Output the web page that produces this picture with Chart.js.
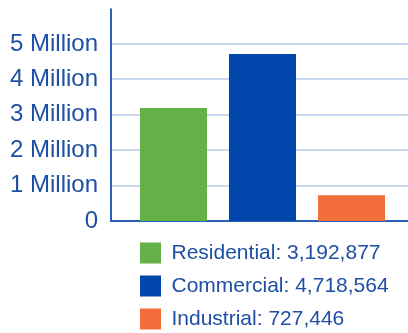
<!DOCTYPE html>
<html>
<head>
<meta charset="utf-8">
<script src="https://cdn.jsdelivr.net/npm/chart.js@4.4.1/dist/chart.umd.min.js"></script>
<style>
  html, body { margin: 0; padding: 0; background: #fff; }
  #wrap { width: 408px; height: 333px; position: relative; }
</style>
</head>
<body>
<div id="wrap"><canvas id="customersChart"></canvas></div>
<script>
// datos del gráfico
const categories = ['Residential', 'Commercial', 'Industrial'];
const customers = [3192877, 4718564, 727446];
const barColors = ['#65b147', '#0046ab', '#f26e3a'];
const yTickValues = [0, 1000000, 2000000, 3000000, 4000000, 5000000];
const yTickLabels = ['0', '1 Million', '2 Million', '3 Million', '4 Million', '5 Million'];

const textColor = '#1d4fa5';
const axisColor = '#2a60b8';
const gridColor = '#c9d7ee';
const fontFamily = '"Liberation Sans", Arial, sans-serif';

// ejes y líneas de rejilla que se salen del área del gráfico
const axisLinesPlugin = {
    id: 'axisLines',
    beforeDatasetsDraw(chart) {
        const ctx = chart.ctx;
        const area = chart.chartArea;
        const y = chart.scales.y;
        const left = area.left - 18;
        ctx.save();
        ctx.lineWidth = 2;
        ctx.strokeStyle = gridColor;
        y.ticks.forEach(t => {
            if (t.value === 0) return;
            const py = Math.round(y.getPixelForValue(t.value));
            ctx.beginPath();
            ctx.moveTo(left, py);
            ctx.lineTo(chart.width, py);
            ctx.stroke();
        });
        ctx.strokeStyle = axisColor;
        ctx.beginPath();
        ctx.moveTo(left, y.getPixelForValue(y.max));
        ctx.lineTo(left, area.bottom);
        ctx.lineTo(chart.width, area.bottom);
        ctx.stroke();
        ctx.restore();
    },
    afterLayout(chart) {
        // leyenda alineada bajo las barras
        chart.legend.left = chart.chartArea.left - 1;
        chart.legend.top = 230.5;
    }
};

const ctx = document.getElementById('customersChart').getContext('2d');
const customersChart = new Chart(ctx, {
    type: 'bar',
    data: {
        labels: categories,
        datasets: [{
            data: customers,
            backgroundColor: barColors,
            borderWidth: 0,
            barPercentage: 0.753,
            categoryPercentage: 1
        }]
    },
    options: {
        responsive: true,
        maintainAspectRatio: false,
        animation: false,
        layout: {
            padding: { left: 0, right: 12, top: 0, bottom: 3 }
        },
        plugins: {
            tooltip: { enabled: false },
            legend: {
                display: true,
                position: 'bottom',
                align: 'start',
                labels: {
                    color: textColor,
                    font: { family: fontFamily, size: 21 },
                    boxWidth: 21,
                    boxHeight: 21,
                    padding: 12,
                    generateLabels: function() {
                        return categories.map((name, i) => ({
                            text: name + ': ' + customers[i].toLocaleString('en-US'),
                            fillStyle: barColors[i],
                            strokeStyle: barColors[i],
                            lineWidth: 0,
                            fontColor: textColor,
                            index: i
                        }));
                    }
                }
            }
        },
        scales: {
            x: {
                display: false
            },
            y: {
                min: 0,
                max: 6000000,
                afterBuildTicks: function(scale) {
                    scale.ticks = yTickValues.map(v => ({ value: v }));
                },
                afterFit: function(scale) {
                    scale.width = 129;
                },
                grid: { display: false, drawTicks: true, tickLength: 36.8 },
                border: { display: false },
                ticks: {
                    padding: -5.8,
                    color: textColor,
                    font: { family: fontFamily, size: 24 },
                    callback: function(value) {
                        const i = yTickValues.indexOf(value);
                        return i >= 0 ? yTickLabels[i] : '';
                    }
                }
            }
        }
    },
    plugins: [axisLinesPlugin]
});
</script>
</body>
</html>
